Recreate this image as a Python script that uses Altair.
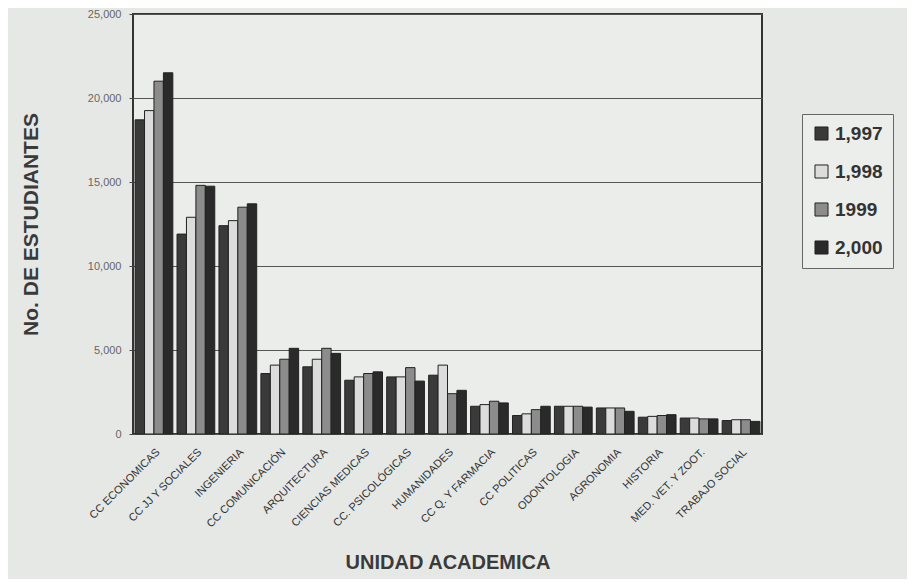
import altair as alt
import pandas as pd

categories = ["CC ECONOMICAS", "CC JJ Y SOCIALES", "INGENIERIA", "CC COMUNICACIÓN",
              "ARQUITECTURA", "CIENCIAS MEDICAS", "CC. PSICOLÓGICAS", "HUMANIDADES",
              "CC Q. Y FARMACIA", "CC POLITICAS", "ODONTOLOGIA", "AGRONOMIA",
              "HISTORIA", "MED. VET. Y ZOOT.", "TRABAJO SOCIAL"]
series = ["1,997", "1,998", "1999", "2,000"]
y1997 = [18700, 11900, 12400, 3600, 4000, 3200, 3400, 3500, 1650, 1100, 1650, 1550, 1000, 950, 800]
y1998 = [19250, 12900, 12700, 4100, 4450, 3400, 3400, 4100, 1750, 1200, 1650, 1550, 1050, 950, 850]
y1999 = [21000, 14800, 13500, 4450, 5100, 3600, 3950, 2400, 1950, 1450, 1650, 1550, 1100, 900, 850]
y2000 = [21500, 14750, 13700, 5100, 4800, 3700, 3150, 2600, 1850, 1650, 1600, 1350, 1150, 900, 750]
y_ticks = [0, 5000, 10000, 15000, 20000, 25000]

rows = []
for s, vals in zip(series, [y1997, y1998, y1999, y2000]):
    for c, v in zip(categories, vals):
        rows.append({"unidad": c, "serie": s, "valor": v})
df = pd.DataFrame(rows)

FONT = "Liberation Sans"
colors = ["#3a3a3a", "#dcdcdc", "#8c8c8c", "#2a2a2a"]

bars = alt.Chart(df).mark_bar(stroke="#222222", strokeWidth=1).encode(
    x=alt.X("unidad:N", sort=categories,
            scale=alt.Scale(paddingInner=0.1, paddingOuter=0.05),
            axis=alt.Axis(title="UNIDAD ACADEMICA", labelAngle=-45, labelFontSize=11,
                          labelColor="#333333", labelFont=FONT, ticks=False,
                          domain=False, titleFont=FONT, titleFontSize=20,
                          titleFontWeight="bold", titleColor="#3a3a3a",
                          titleY=128, titleBaseline="middle", labelPadding=12)),
    xOffset=alt.XOffset("serie:N", sort=series),
    y=alt.Y("valor:Q", scale=alt.Scale(domain=[0, 25000]),
            axis=alt.Axis(title="No. DE ESTUDIANTES", values=y_ticks, format=",d",
                          labelFontSize=11, labelColor="#666666", labelFont=FONT,
                          tickColor="#444444", tickSize=4, labelPadding=8, domain=False,
                          titleFont=FONT, titleFontSize=21, titleFontWeight="bold",
                          titleColor="#3a3a3a", titlePadding=46,
                          gridColor="#555555", gridWidth=1.2)),
    color=alt.Color("serie:N", sort=series,
                    scale=alt.Scale(domain=series, range=colors),
                    legend=alt.Legend(title=None, orient="none", legendX=669, legendY=100,
                                      symbolType="square", symbolSize=170,
                                      symbolStrokeColor="#222222", symbolStrokeWidth=1,
                                      labelFontSize=19, labelFont=FONT,
                                      labelColor="#333333", labelFontWeight="bold",
                                      rowPadding=18, padding=10,
                                      strokeColor="#666666", fillColor="#eceeeb")),
)

chart = bars.properties(
    width=629, height=420,
    autosize=alt.AutoSizeParams(type="none"),
    padding={"left": 125, "top": 6, "right": 145, "bottom": 145},
    background="#e6e8e5",
).configure_view(
    stroke="#333333", strokeWidth=2, fill="#ebedea"
)

chart.save("out.html", embed_options={"renderer": "svg", "actions": False})
